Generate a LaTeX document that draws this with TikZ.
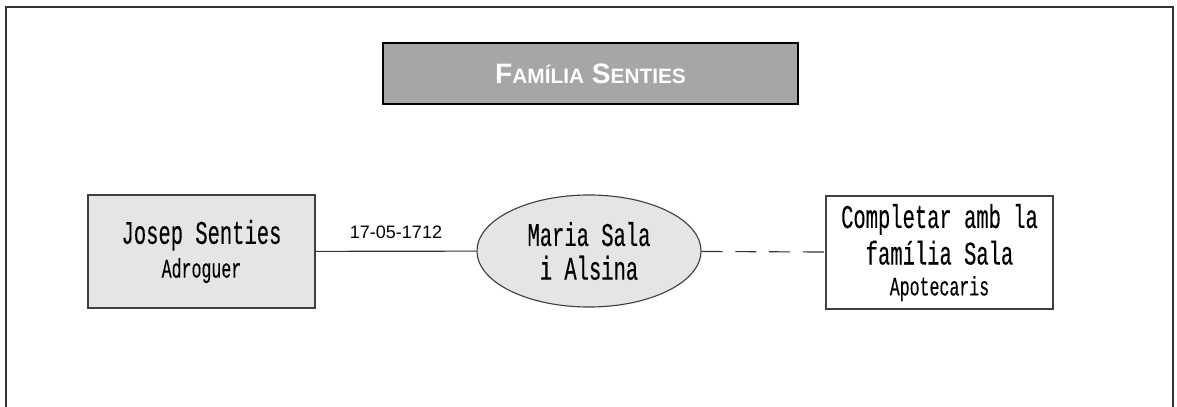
\documentclass[tikz,border=0pt]{standalone}
\usepackage{fontspec}
\usetikzlibrary{shapes.geometric}
\setmainfont{Liberation Sans}
\newfontfamily\typefont[FakeStretch=0.62,FakeBold=0.25]{Liberation Mono}

\begin{document}
\begin{tikzpicture}[x=0.025cm,y=-0.025cm,-]
    \newcommand{\bigname}{\typefont\fontsize{23.5}{24}\selectfont}
    \newcommand{\smallname}{\typefont\fontsize{19}{20}\selectfont}
    \newcommand{\smc}[1]{{\fontsize{14.8}{16}\selectfont #1}}
    \tikzstyle{person}=[rectangle,draw=black!75,fill=black!10,line width=0.8pt,minimum width=5.675cm,minimum height=2.825cm,inner sep=0pt,align=center,font=\bigname]
    \tikzstyle{spouse}=[ellipse,draw=black!75,fill=black!10,line width=0.8pt,minimum width=5.6cm,minimum height=2.8cm,inner sep=0pt,align=center,font=\bigname]
    \tikzstyle{pending}=[rectangle,draw=black!75,fill=white,line width=0.8pt,minimum width=5.675cm,minimum height=2.825cm,inner sep=0pt,align=center,font=\bigname]
    \tikzstyle{heading}=[rectangle,draw=black,fill=black!35,line width=1.8pt,minimum width=10.375cm,minimum height=1.525cm,text=white,font=\bfseries\fontsize{20}{22}\selectfont]

    \useasboundingbox (0,0) rectangle (1177,407);
    \draw[line width=1pt,black!80] (6,407) -- (6,7) -- (1173,7) -- (1173,407);

    \node[heading] (title) at (590.5,73.5) {F\smc{AMÍLIA} S\smc{ENTIES}};

    \node[person] (josep) at (201.5,251.5) {Josep Senties\\ \smallname Adroguer};
    \node[spouse] (maria) at (589,251) {Maria Sala\\ i Alsina};
    \node[pending] (sala) at (939.5,252.5) {Completar amb la\\[2pt] família Sala\\[-2pt] \smallname Apotecaris};

    \draw[line width=0.8pt,black!80] (josep) -- node[above=5pt,text=black,font=\fontsize{12.8}{14}\selectfont] (wedding) {17-05-1712} (maria);
    \draw[line width=0.8pt,black!80,dash pattern=on 15pt off 9pt] (maria) -- (sala);
\end{tikzpicture}
\end{document}
